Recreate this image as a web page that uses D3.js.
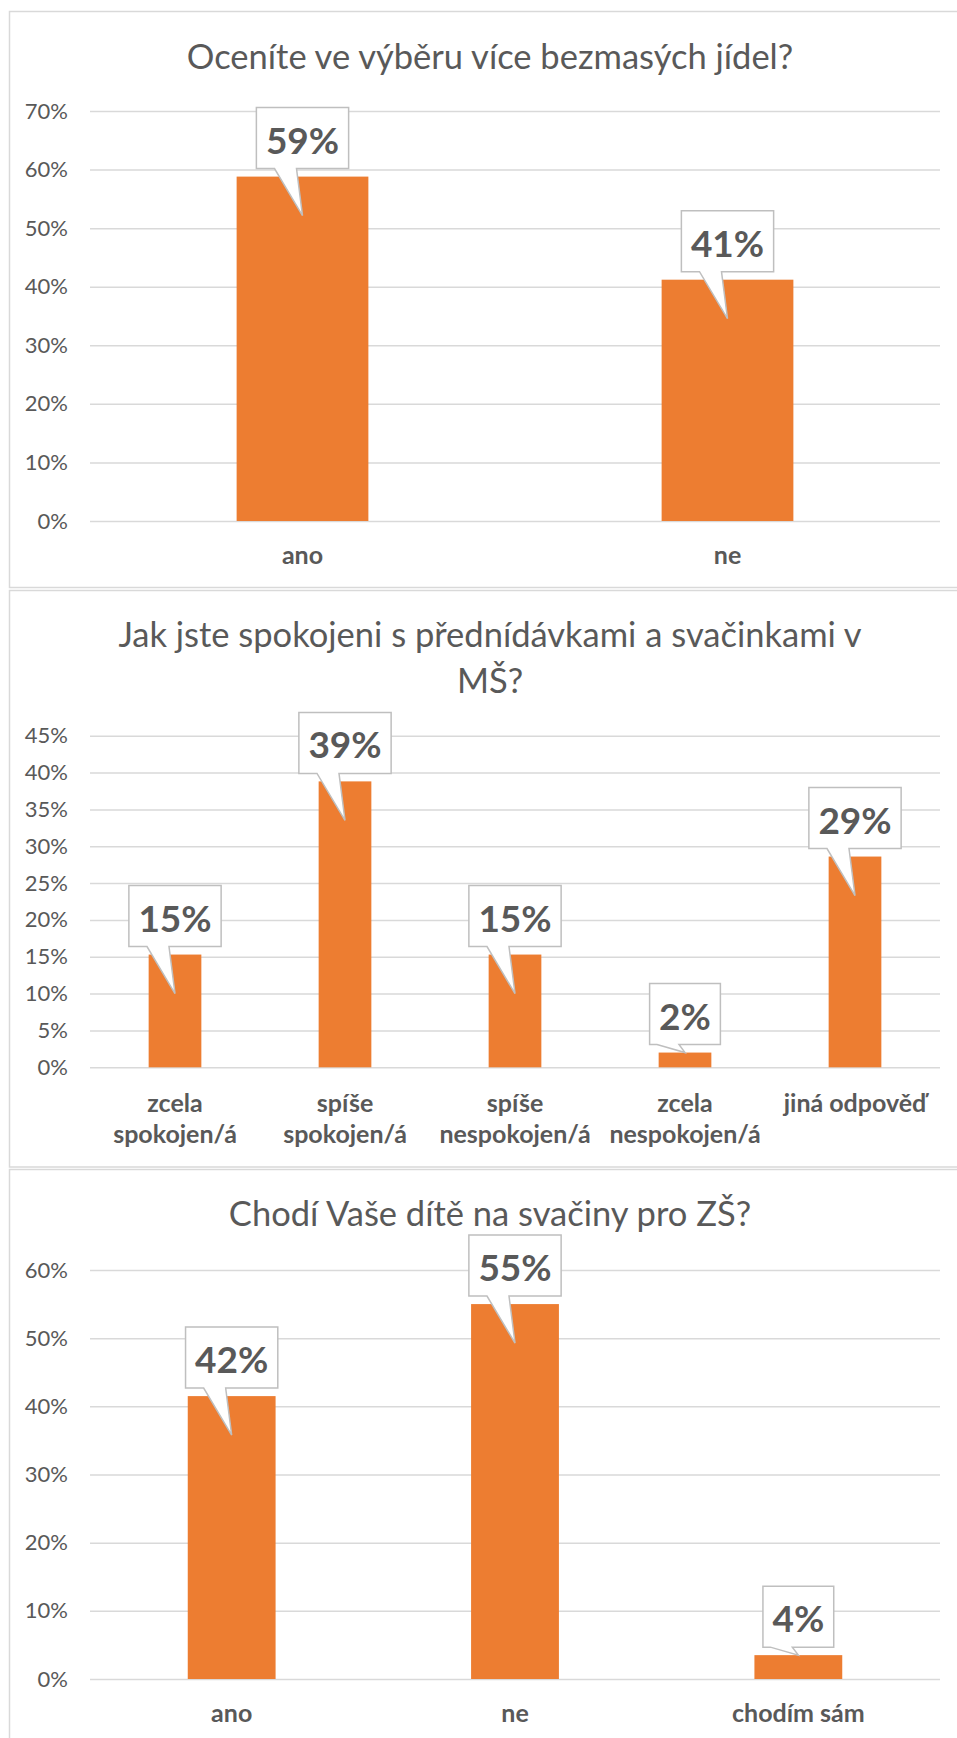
<!DOCTYPE html>
<html>
<head>
<meta charset="utf-8">
<script src="https://cdn.jsdelivr.net/npm/d3@7"></script>
<style>
  body { margin: 0; background: #fff; }
  text { font-family: Lato, "Open Sans", sans-serif; }
</style>
</head>
<body>
<div class="charts"></div>
<script>
// data (percent)
var titles1 = ["Oceníte ve výběru více bezmasých jídel?"];
var categories1 = ["ano", "ne"];
var values1 = [58.8, 41.2];
var labels1 = ["59%", "41%"];
var ticks1 = [0, 10, 20, 30, 40, 50, 60, 70];

var titles2 = ["Jak jste spokojeni s přednídávkami a svačinkami v", "MŠ?"];
var categories2 = ["zcela\nspokojen/á", "spíše\nspokojen/á", "spíše\nnespokojen/á", "zcela\nnespokojen/á", "jiná odpověď"];
var values2 = [15.3, 38.8, 15.3, 2.0, 28.6];
var labels2 = ["15%", "39%", "15%", "2%", "29%"];
var ticks2 = [0, 5, 10, 15, 20, 25, 30, 35, 40, 45];

var titles3 = ["Chodí Vaše dítě na svačiny pro ZŠ?"];
var categories3 = ["ano", "ne", "chodím sám"];
var values3 = [41.5, 55.0, 3.5];
var labels3 = ["42%", "55%", "4%"];
var ticks3 = [0, 10, 20, 30, 40, 50, 60];

var W = 957, H = 1738;
var plotLeft = 90, plotRight = 940;
var orange = "#ED7D31";
var grey = "#595959";
var gridColor = "#D9D9D9";

var svg = d3.select(".charts")
            .append("svg")
            .attr("width", W)
            .attr("height", H);

// one panel = one chart
function drawPanel(cfg) {
  var g = svg.append("g");

  g.append("rect") // frame
    .attr("x", 9.5)
    .attr("y", cfg.top)
    .attr("width", 975)
    .attr("height", cfg.height)
    .attr("fill", "#fff")
    .attr("stroke", gridColor)
    .attr("stroke-width", 1.5);

  g.selectAll(".title")
    .data(cfg.title)
    .enter()
    .append("text")
    .attr("class", "title")
    .attr("x", 490)
    .attr("y", (d, i) => cfg.titleY + i * 46)
    .attr("text-anchor", "middle")
    .attr("fill", grey)
    .style("font-size", "34.5px")
    .text(d => d);

  var yScale = d3.scaleLinear()
                 .domain([0, d3.max(cfg.ticks)])
                 .range([cfg.y0, cfg.yMax]);

  var xScale = d3.scaleBand()
                 .domain(cfg.categories)
                 .range([plotLeft, plotRight])
                 .paddingInner(0.69)
                 .paddingOuter(0.345);

  var yAxis = d3.axisLeft(yScale)
                .tickValues(cfg.ticks)
                .tickSize(-(plotRight - plotLeft))
                .tickPadding(22)
                .tickFormat(d => d + "%");

  g.append("g")
    .attr("transform", `translate(${plotLeft},0)`)
    .call(yAxis)
    .call(a => {
      a.select(".domain").remove();
      a.selectAll("line")
        .attr("stroke", gridColor)
        .attr("stroke-width", 1.5);
      a.selectAll("text")
        .attr("fill", grey)
        .style("font-size", "22px")
        .style("font-family", "Lato, sans-serif");
    });

  var xAxis = d3.axisBottom(xScale).tickSize(0).tickPadding(0);

  g.append("g")
    .attr("transform", `translate(0,${cfg.y0})`)
    .call(xAxis)
    .call(a => {
      a.select(".domain").remove();
      a.selectAll("text")
        .attr("y", null)
        .attr("dy", null)
        .attr("fill", grey)
        .style("font-size", "25px")
        .style("font-weight", "bold")
        .style("font-family", "Lato, sans-serif")
        .text(null)
        .each(function (d) {
          var lines = d.split("\n"); // two-line category names
          d3.select(this).selectAll("tspan")
            .data(lines)
            .enter()
            .append("tspan")
            .attr("x", 0)
            .attr("y", (l, i) => cfg.xLabelDy + i * 31)
            .text(l => l);
        });
    });

  var bars = cfg.categories.map((c, i) => ({ cat: c, value: cfg.values[i], label: cfg.labels[i] }));

  g.selectAll(".bar")
    .data(bars)
    .enter()
    .append("rect")
    .attr("class", "bar")
    .attr("x", d => xScale(d.cat))
    .attr("y", d => yScale(d.value))
    .attr("width", xScale.bandwidth())
    .attr("height", d => cfg.y0 - yScale(d.value))
    .attr("fill", orange);

  // callout labels above the bars
  var callout = g.selectAll(".callout")
    .data(bars)
    .enter()
    .append("g")
    .attr("class", "callout")
    .attr("transform", d => `translate(${xScale(d.cat) + xScale.bandwidth() / 2},${yScale(d.value)})`);

  var shape = callout.append("path")
    .attr("fill", "#fff")
    .attr("stroke", "#BFBFBF")
    .attr("stroke-width", 1.5);

  callout.append("text")
    .attr("x", 0)
    .attr("y", -23)
    .attr("text-anchor", "middle")
    .attr("fill", grey)
    .style("font-size", "37px")
    .style("font-weight", "bold")
    .text(d => d.label)
    .each(function (d) { d.tw = this.getComputedTextLength(); });

  shape.attr("d", d => {
    var hw = d.tw / 2 + 9.5;
    var barH = cfg.y0 - yScale(d.value);
    var tip = barH > 50 ? 39 : 0; // short bars: pointer only reaches the top
    return `M${-hw},-69 H${hw} V-8 H-6 L0,${tip} L-28,-8 H${-hw} Z`;
  });
}

drawPanel({ top: 11.5, height: 576, title: titles1, titleY: 69,
            categories: categories1, values: values1, labels: labels1, ticks: ticks1,
            y0: 521, yMax: 111, xLabelDy: 43 });

drawPanel({ top: 590.5, height: 576.5, title: titles2, titleY: 647,
            categories: categories2, values: values2, labels: labels2, ticks: ticks2,
            y0: 1067.3, yMax: 735.7, xLabelDy: 45 });

drawPanel({ top: 1169.5, height: 620, title: titles3, titleY: 1226,
            categories: categories3, values: values3, labels: labels3, ticks: ticks3,
            y0: 1679, yMax: 1270, xLabelDy: 43 });
</script>
</body>
</html>
